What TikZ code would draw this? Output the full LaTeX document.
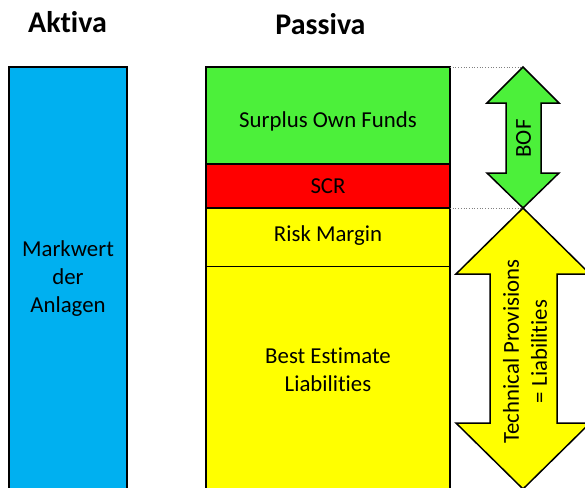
\documentclass[tikz,border=0pt]{standalone}
\usepackage{fontspec}
\setmainfont{Carlito}[Ligatures=NoCommon, RawFeature={-liga;-clig;-dlig;-calt}]
\definecolor{assetblue}{RGB}{0,176,240}
\definecolor{fundgreen}{RGB}{76,240,58}
\definecolor{scrred}{RGB}{255,0,0}
\definecolor{tpyellow}{RGB}{255,255,0}
\begin{document}
\begin{tikzpicture}[x=1pt,y=-1pt,
  sec/.style={anchor=north west, inner sep=0pt, outer sep=0pt, minimum width=244pt},
  rule/.style={draw=black, line width=1.5pt},
  thinrule/.style={draw=black, line width=0.9pt},
  lbl/.style={font=\fontsize{22.8}{28}\selectfont, align=center, inner sep=0pt},
  title/.style={font=\fontsize{30}{34}\selectfont\bfseries, inner sep=0pt, anchor=base},
  arrowshape/.style={draw=black, line width=1.5pt, line join=miter},
  guide/.style={draw=gray, dotted, line width=0.7pt}]
\useasboundingbox (0,0) rectangle (585,487);
\clip (0,0) rectangle (585,487);

% column titles
\node[title] (aktiva) at (67.5,33) {Aktiva};
\node[title] (passiva) at (320.5,34.5) {Passiva};

% assets column
\node[anchor=north west, inner sep=0pt, outer sep=0pt, fill=assetblue, draw=black,
      line width=1.5pt, minimum width=118pt, minimum height=460pt] (assets) at (9,67) {};
\node[lbl] (assetlbl) at (68,279) {Markwert\\der\\Anlagen};

% liabilities column
\node[sec, fill=fundgreen, minimum height=97pt] (sof) at (206,67) {};
\node[sec, fill=scrred, minimum height=44pt] (scr) at (sof.south west) {};
\node[sec, fill=tpyellow, minimum height=58pt] (rm) at (scr.south west) {};
\node[sec, fill=tpyellow, minimum height=260pt] (be) at (rm.south west) {};
\draw[thinrule] (rm.south west) -- (rm.south east);
\draw[rule] (sof.south west) -- (sof.south east);
\draw[rule] (scr.south west) -- (scr.south east);
\draw[rule] (sof.north west) rectangle (be.south east);

\node[lbl] (soflbl) at (328,121) {Surplus Own Funds};
\node[lbl] (scrlbl) at (328,186) {SCR};
\node[lbl] (rmlbl) at (328,236) {Risk Margin};
\node[lbl] (belbl) at (328,370) {Best Estimate\\Liabilities};

% arrow tips
\coordinate (boftop) at (523,67);
\coordinate (bofbot) at (523,208);
\coordinate (tpbot) at (523,489);

% guide lines to the arrow tips
\draw[guide] (sof.north east) -- (boftop);
\draw[guide] (scr.south east) -- (bofbot);

% BOF double arrow
\draw[arrowshape, fill=fundgreen] (boftop) -- (559,103) -- (541,103) -- (541,173)
  -- (559,173) -- (bofbot) -- (487,173) -- (506,173) -- (506,103) -- (487,103) -- cycle;
\node[lbl, rotate=90] (boflbl) at (523.5,138.5) {BOF};

% technical provisions double arrow
\draw[arrowshape, fill=tpyellow] (bofbot) -- (590,274) -- (557,274) -- (557,423)
  -- (590,423) -- (tpbot) -- (456,423) -- (490,423) -- (490,274) -- (456,274) -- cycle;
\node[lbl, rotate=90] (tplbl) at (525,351.5) {Technical Provisions\\= Liabilities};
\end{tikzpicture}
\end{document}
